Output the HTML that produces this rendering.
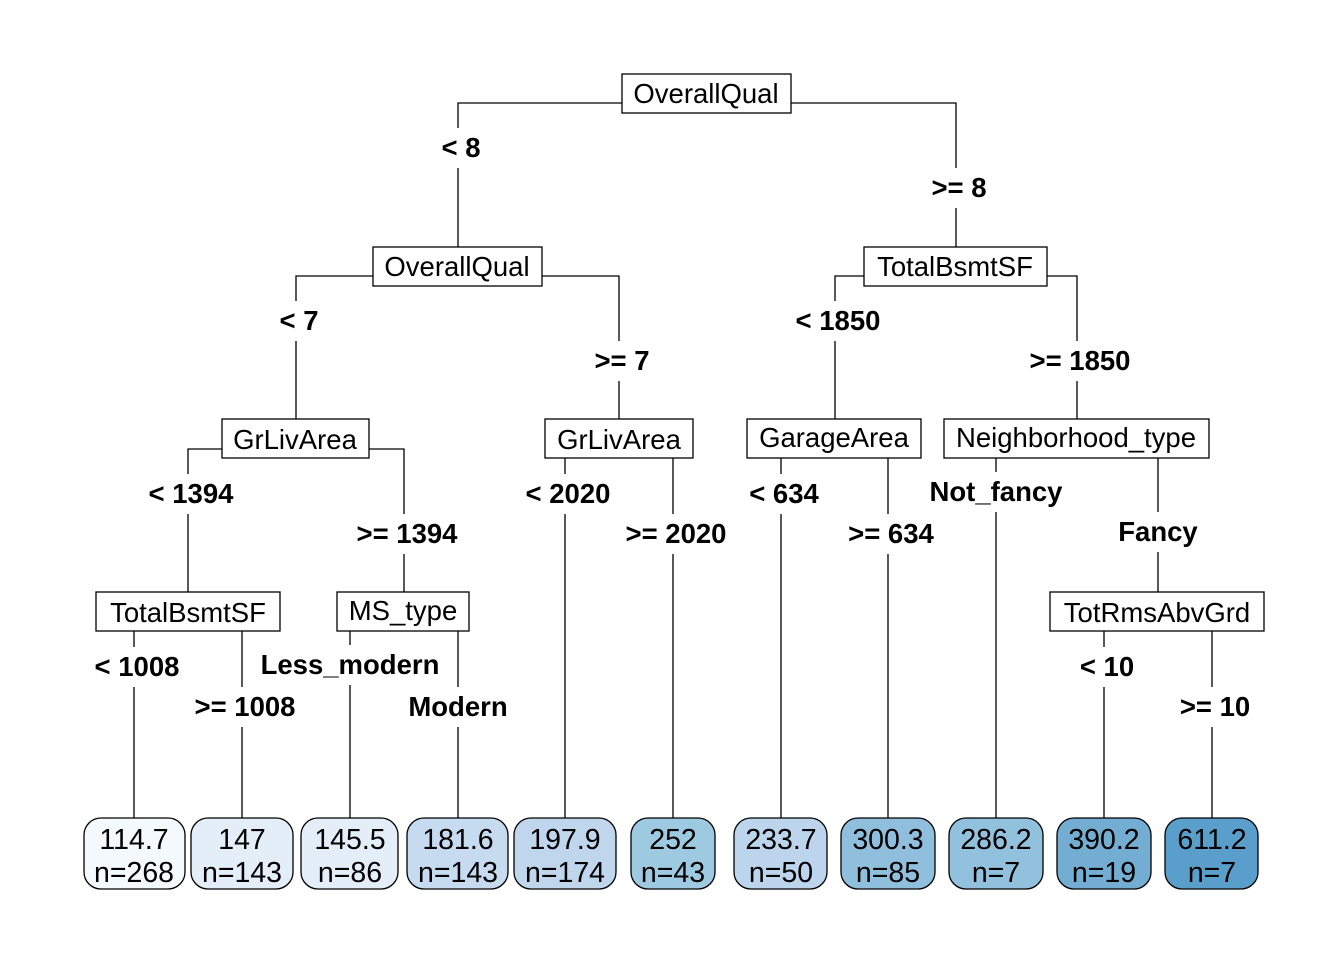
<!DOCTYPE html>
<html><head><meta charset="utf-8"><style>html,body{margin:0;padding:0;background:#fff}svg{display:block}</style></head><body>
<svg width="1344" height="960" viewBox="0 0 1344 960" xmlns="http://www.w3.org/2000/svg" font-family="Liberation Sans, Arial, sans-serif">
<g stroke="#000" stroke-width="1.3" fill="none">
<path d="M622 103H458V247M791 103H956V247"/>
<path d="M373 276H296V419M542 276H619V419"/>
<path d="M864 276H835V419M1047 276H1077V419"/>
<path d="M222 449H188V592M369 449H404V592"/>
<path d="M565 458V818M673 458V818M781 458V818M888 458V818M996 458V818M1158 458V592"/>
<path d="M134 631V818M242 631V818M350 631V818M458 631V818M1104 631V818M1212 631V818"/>
</g>
<g fill="#fff">
<rect x="440" y="128" width="40" height="40"/><rect x="938" y="168" width="40" height="40"/>
<rect x="278" y="301" width="40" height="40"/><rect x="600" y="341" width="40" height="40"/>
<rect x="815" y="301" width="40" height="40"/><rect x="1057" y="341" width="40" height="40"/>
<rect x="168" y="474" width="40" height="40"/><rect x="384" y="514" width="40" height="40"/>
<rect x="545" y="474" width="40" height="40"/><rect x="653" y="514" width="40" height="40"/>
<rect x="761" y="474" width="40" height="40"/><rect x="868" y="514" width="40" height="40"/>
<rect x="976" y="472" width="40" height="40"/><rect x="1138" y="512" width="40" height="40"/>
<rect x="114" y="647" width="40" height="40"/><rect x="222" y="687" width="40" height="40"/>
<rect x="330" y="645" width="40" height="40"/><rect x="438" y="687" width="40" height="40"/>
<rect x="1084" y="647" width="40" height="40"/><rect x="1192" y="687" width="40" height="40"/>
</g>
<g fill="#fff" stroke="#000" stroke-width="1.3">
<rect x="622" y="74" width="169" height="39"/>
<rect x="373" y="247" width="169" height="39"/>
<rect x="864" y="247" width="183" height="39"/>
<rect x="222" y="419" width="147" height="39"/>
<rect x="545" y="419" width="148" height="39"/>
<rect x="747" y="419" width="174" height="39"/>
<rect x="944" y="419" width="265" height="39"/>
<rect x="96" y="592" width="184" height="39"/>
<rect x="337" y="592" width="132" height="39"/>
<rect x="1050" y="592" width="214" height="39"/>
</g>
<g font-size="27.5" text-anchor="middle" fill="#000">
<text x="706" y="103">OverallQual</text>
<text x="457" y="276">OverallQual</text>
<text x="955" y="276">TotalBsmtSF</text>
<text x="295" y="449">GrLivArea</text>
<text x="619" y="449">GrLivArea</text>
<text x="834" y="447">GarageArea</text>
<text x="1076" y="447">Neighborhood_type</text>
<text x="188" y="622">TotalBsmtSF</text>
<text x="403" y="620">MS_type</text>
<text x="1157" y="622">TotRmsAbvGrd</text>
</g>
<g font-size="27.5" font-weight="bold" text-anchor="middle" fill="#000">
<text x="461" y="157">&lt; 8</text>
<text x="959" y="197">&gt;= 8</text>
<text x="299" y="330">&lt; 7</text>
<text x="622" y="370">&gt;= 7</text>
<text x="838" y="330">&lt; 1850</text>
<text x="1080" y="370">&gt;= 1850</text>
<text x="191" y="503">&lt; 1394</text>
<text x="407" y="543">&gt;= 1394</text>
<text x="568" y="503">&lt; 2020</text>
<text x="676" y="543">&gt;= 2020</text>
<text x="784" y="503">&lt; 634</text>
<text x="891" y="543">&gt;= 634</text>
<text x="996" y="501">Not_fancy</text>
<text x="1158" y="541">Fancy</text>
<text x="137" y="676">&lt; 1008</text>
<text x="245" y="716">&gt;= 1008</text>
<text x="350" y="674">Less_modern</text>
<text x="458" y="716">Modern</text>
<text x="1107" y="676">&lt; 10</text>
<text x="1215" y="716">&gt;= 10</text>
</g>
<g stroke="#000" stroke-width="1.3">
<rect x="84" y="818" width="101" height="71" rx="17" fill="#f4f9fe"/>
<rect x="191" y="818" width="102" height="71" rx="17" fill="#e3eef9"/>
<rect x="301" y="818" width="97" height="71" rx="17" fill="#e3eef9"/>
<rect x="407" y="818" width="101" height="71" rx="17" fill="#c6dbef"/>
<rect x="514" y="818" width="102" height="71" rx="17" fill="#c0d6ed"/>
<rect x="631" y="818" width="84" height="71" rx="17" fill="#9ecae1"/>
<rect x="734" y="818" width="93" height="71" rx="17" fill="#bcd4ec"/>
<rect x="841" y="818" width="94" height="71" rx="17" fill="#8fbfdd"/>
<rect x="949" y="818" width="94" height="71" rx="17" fill="#92c1de"/>
<rect x="1057" y="818" width="94" height="71" rx="17" fill="#74add2"/>
<rect x="1165" y="818" width="93" height="71" rx="17" fill="#5a9fcb"/>
</g>
<g font-size="28.5" text-anchor="middle" fill="#000">
<text x="134" y="849">114.7</text><text x="134" y="882">n=268</text>
<text x="242" y="849">147</text><text x="242" y="882">n=143</text>
<text x="350" y="849">145.5</text><text x="350" y="882">n=86</text>
<text x="458" y="849">181.6</text><text x="458" y="882">n=143</text>
<text x="565" y="849">197.9</text><text x="565" y="882">n=174</text>
<text x="673" y="849">252</text><text x="673" y="882">n=43</text>
<text x="781" y="849">233.7</text><text x="781" y="882">n=50</text>
<text x="888" y="849">300.3</text><text x="888" y="882">n=85</text>
<text x="996" y="849">286.2</text><text x="996" y="882">n=7</text>
<text x="1104" y="849">390.2</text><text x="1104" y="882">n=19</text>
<text x="1212" y="849">611.2</text><text x="1212" y="882">n=7</text>
</g>
</svg>
</body></html>
